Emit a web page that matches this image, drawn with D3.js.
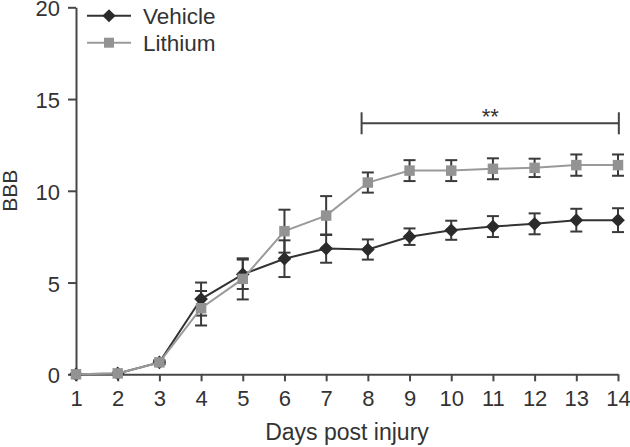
<!DOCTYPE html>
<html>
<head>
<meta charset="utf-8">
<script src="https://cdn.jsdelivr.net/npm/d3@7"></script>
<style>
  html, body { margin: 0; padding: 0; background: #fff; }
  svg { display: block; }
  text { font-family: "Liberation Sans", Arial, sans-serif; fill: #333; }
</style>
</head>
<body>
<svg id="chart" width="630" height="447"></svg>
<script>
const days = [1, 2, 3, 4, 5, 6, 7, 8, 9, 10, 11, 12, 13, 14];
const vehicle    = [0, 0.05, 0.65, 4.1, 5.45, 6.3, 6.85, 6.8, 7.5, 7.85, 8.05, 8.2, 8.4, 8.4];
const vehicleErr = [0, 0, 0.1, 0.9, 0.8, 1.0, 0.77, 0.55, 0.45, 0.52, 0.57, 0.57, 0.62, 0.65];
const lithium    = [0, 0.05, 0.65, 3.6, 5.2, 7.8, 8.65, 10.45, 11.1, 11.1, 11.2, 11.25, 11.4, 11.4];
const lithiumErr = [0, 0, 0.1, 0.94, 1.12, 1.17, 1.06, 0.55, 0.57, 0.57, 0.57, 0.5, 0.58, 0.58];
const yTicks = [0, 5, 10, 15, 20];
const seriesNames = ["Vehicle", "Lithium"];
const sigRange = [7.85, 14.02];
const sigLabel = "**";
const sigLevel = 13.68;

const svg = d3.select("#chart");
const x = d3.scaleLinear().domain([1, 14]).range([76, 618]);
const y = d3.scaleLinear().domain([0, 20]).range([374.3, 7.3]);

const axisColor = "#474747";
const fontFam = "'Liberation Sans', Arial, sans-serif";

// axes
const gy = svg.append("g").attr("transform", `translate(${x(1)},0)`)
  .call(d3.axisLeft(y).tickValues(yTicks).tickSize(8).tickSizeOuter(0).tickPadding(8));
const gx = svg.append("g").attr("transform", `translate(0,${y(0)})`)
  .call(d3.axisBottom(x).tickValues(days).tickFormat(d3.format("d")).tickSize(7).tickSizeOuter(0).tickPadding(9));
[gx, gy].forEach(g => {
  g.select(".domain").attr("stroke", axisColor).attr("stroke-width", 2);
  g.selectAll(".tick line").attr("stroke", axisColor).attr("stroke-width", 2);
  g.selectAll(".tick text").attr("font-size", 22).attr("fill", "#333").attr("font-family", fontFam);
});
gy.selectAll(".tick text").attr("dy", "0.39em");

// axis titles
svg.append("text").attr("x", (x(1) + x(14)) / 2).attr("y", 440)
  .attr("text-anchor", "middle").attr("font-size", 23).text("Days post injury");
svg.append("text").attr("transform", `translate(17,${y(10)}) rotate(-90)`)
  .attr("text-anchor", "middle").attr("font-size", 21).text("BBB");

const series = [
  { name: seriesNames[0], vals: vehicle, err: vehicleErr, line: "#333", fill: "#2b2b2b", shape: d3.symbolDiamond2 },
  { name: seriesNames[1], vals: lithium, err: lithiumErr, line: "#9a9a9a", fill: "#939393", shape: d3.symbolSquare }
];

const line = d3.line().x((d, i) => x(days[i])).y(d => y(d));

// error bars
series.forEach(s => {
  const g = svg.append("g");
  s.vals.forEach((v, i) => {
    const e = s.err[i];
    if (e <= 0) return;
    const cx = x(days[i]);
    g.append("line").attr("x1", cx).attr("x2", cx).attr("y1", y(v - e)).attr("y2", y(v + e))
      .attr("stroke", "#3a3a3a").attr("stroke-width", 2);
    [v - e, v + e].forEach(t => g.append("line").attr("x1", cx - 6).attr("x2", cx + 6)
      .attr("y1", y(t)).attr("y2", y(t)).attr("stroke", "#3a3a3a").attr("stroke-width", 2));
  });
});

// lines + markers
series.forEach(s => {
  svg.append("path").datum(s.vals).attr("d", line).attr("fill", "none")
    .attr("stroke", s.line).attr("stroke-width", 2);
  svg.append("g").selectAll("path").data(s.vals).join("path")
    .attr("transform", (d, i) => `translate(${x(days[i])},${y(d)})`)
    .attr("d", d3.symbol().type(s.shape).size(s.shape === d3.symbolSquare ? 110 : 120))
    .attr("fill", s.fill);
});

// legend
series.forEach((s, k) => {
  const ly = 15.7 + k * 27;
  svg.append("line").attr("x1", 87).attr("x2", 131).attr("y1", ly).attr("y2", ly)
    .attr("stroke", s.line).attr("stroke-width", 2);
  svg.append("path").attr("transform", `translate(109,${ly})`)
    .attr("d", d3.symbol().type(s.shape).size(s.shape === d3.symbolSquare ? 100 : 110))
    .attr("fill", s.fill);
  svg.append("text").attr("x", 143).attr("y", ly + 8.6).attr("font-size", 22.5).text(s.name);
});

// significance bracket
const sy = y(sigLevel);
const bg = svg.append("g").attr("stroke", "#444").attr("stroke-width", 2);
bg.append("line").attr("x1", x(sigRange[0])).attr("x2", x(sigRange[1])).attr("y1", sy).attr("y2", sy);
sigRange.forEach(d => bg.append("line").attr("x1", x(d)).attr("x2", x(d)).attr("y1", sy - 11).attr("y2", sy + 11));
svg.append("text").attr("x", (x(sigRange[0]) + x(sigRange[1])) / 2).attr("y", sy + 1)
  .attr("text-anchor", "middle").attr("font-size", 22).text(sigLabel);
</script>
</body>
</html>
